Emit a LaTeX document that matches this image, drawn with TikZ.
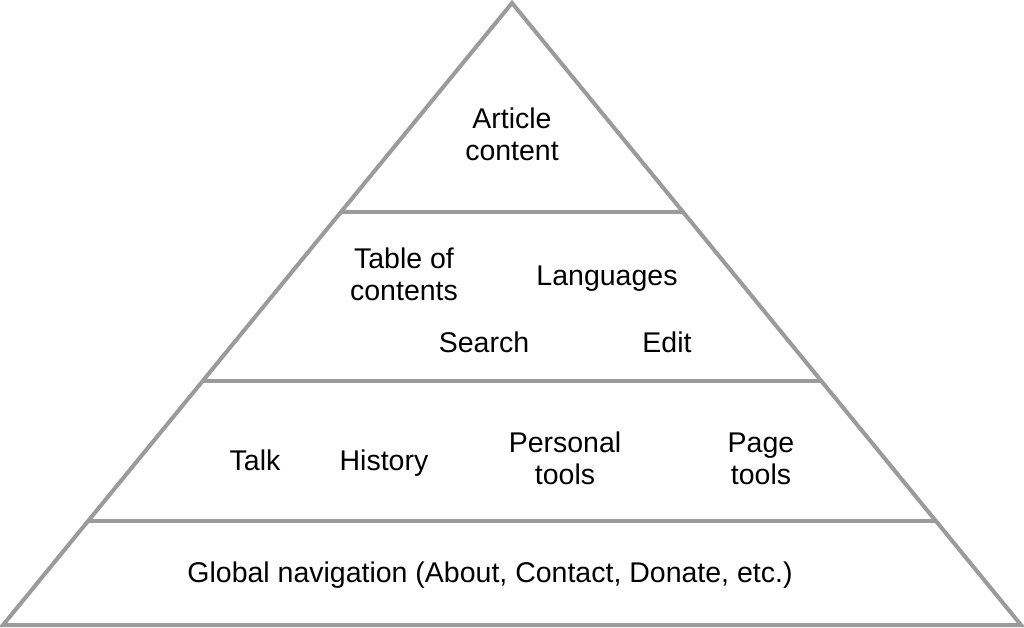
\documentclass[tikz,border=0pt]{standalone}
\usepackage{fontspec}
\setmainfont{Liberation Sans}
\usetikzlibrary{calc}
\definecolor{linegray}{RGB}{155,155,155}
\begin{document}
\begin{tikzpicture}[x=1pt,y=-1pt,
  edge/.style={draw=linegray,line width=4pt,line join=miter},
  lbl/.style={inner sep=0pt,align=center,anchor=base,font=\fontsize{28.5}{32}\selectfont}]
\useasboundingbox (0,0) rectangle (1024,628);
\coordinate (apex) at (512,3);
\coordinate (bl) at (3,625);
\coordinate (br) at (1021,625);
\draw[edge] (apex) -- (bl) -- (br) -- cycle;
\coordinate (l1) at ($(apex)!0.336!(bl)$);
\coordinate (r1) at ($(apex)!0.336!(br)$);
\coordinate (l2) at ($(apex)!0.6077!(bl)$);
\coordinate (r2) at ($(apex)!0.6077!(br)$);
\coordinate (l3) at ($(apex)!0.8328!(bl)$);
\coordinate (r3) at ($(apex)!0.8328!(br)$);
\draw[edge] (l1) -- (r1);
\draw[edge] (l2) -- (r2);
\draw[edge] (l3) -- (r3);
\node[lbl] (article) at (512,161) {Article\\content};
\node[lbl] (toc) at (404,300) {Table of\\contents};
\node[lbl] (lang) at (607,285) {Languages};
\node[lbl] (search) at (484,352) {Search};
\node[lbl] (edit) at (667,352) {Edit};
\node[lbl] (talk) at (255,470) {Talk};
\node[lbl] (history) at (384,470) {History};
\node[lbl] (personal) at (565,484) {Personal\\tools};
\node[lbl] (page) at (761,484) {Page\\tools};
\node[lbl] (global) at (490,582) {Global navigation (About, Contact, Donate, etc.)};
\end{tikzpicture}
\end{document}
